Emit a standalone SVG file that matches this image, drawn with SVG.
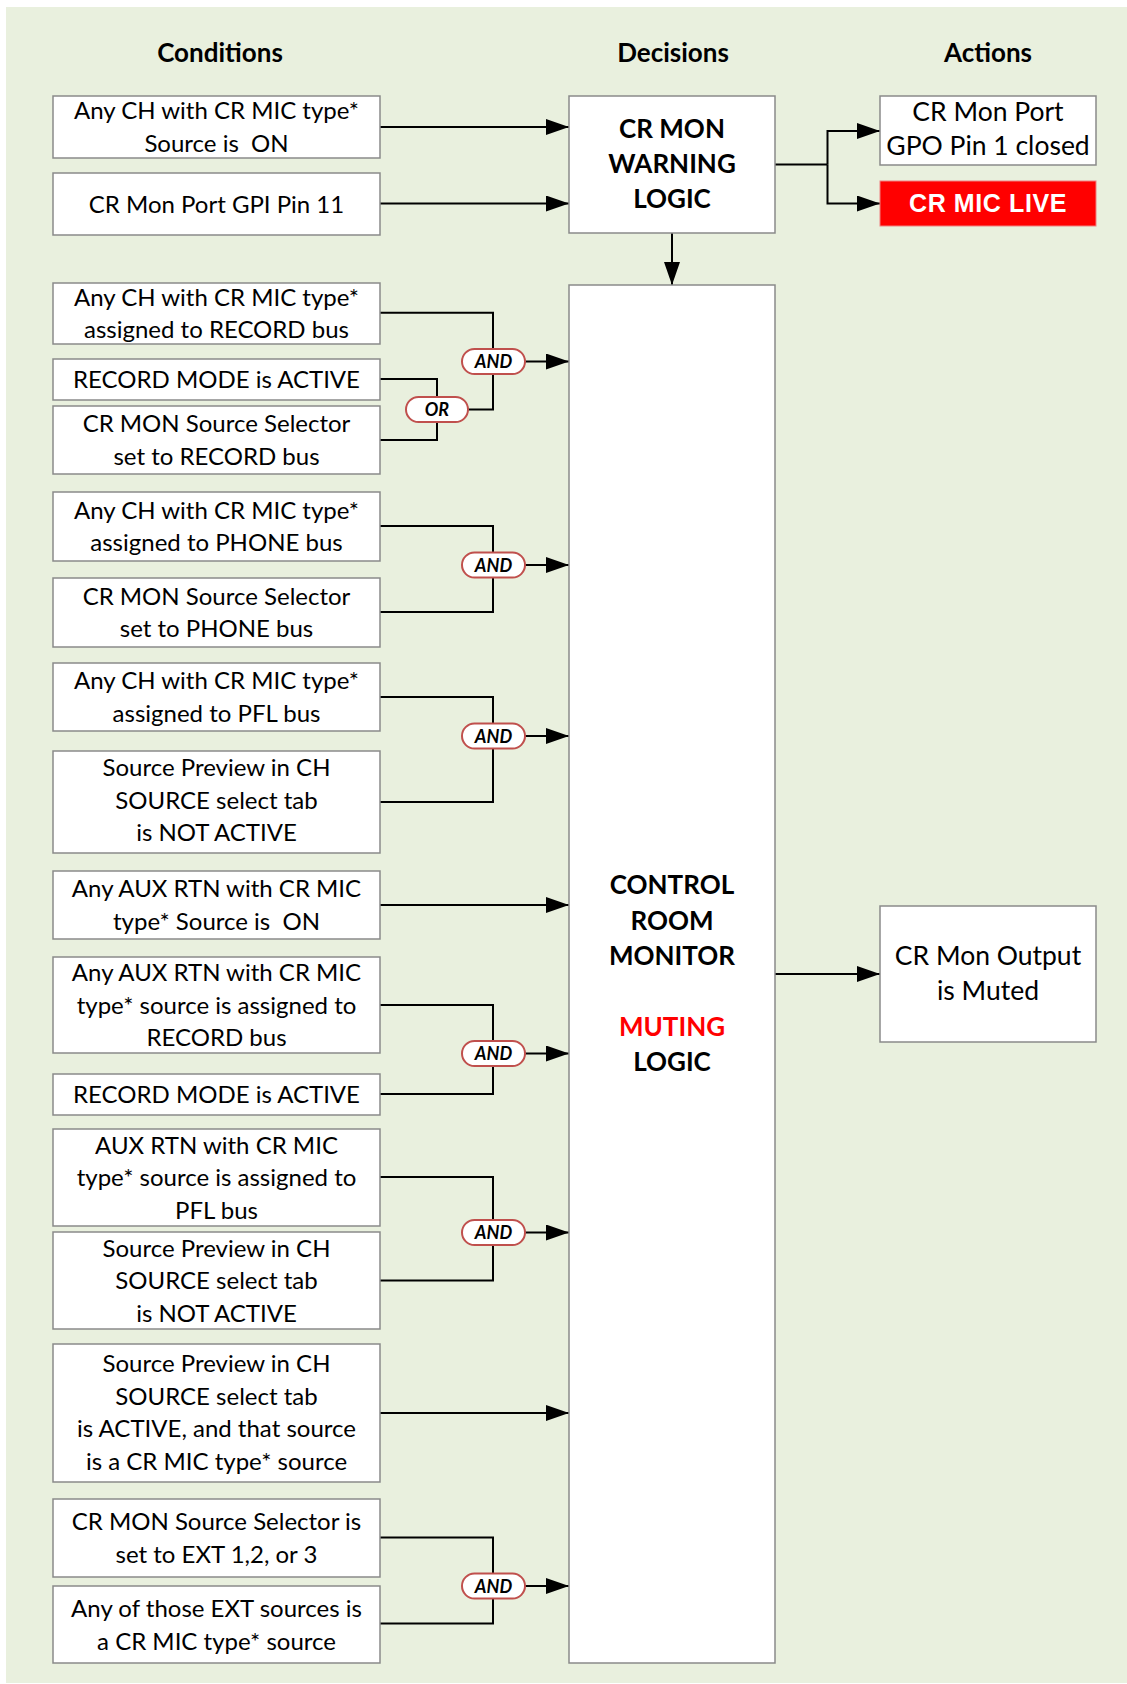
<svg xmlns="http://www.w3.org/2000/svg" width="1127" height="1684" viewBox="0 0 1127 1684">
<style>
.bg{fill:#E9F0DE}
.box{fill:#fff;stroke:#8a8a8a;stroke-width:1.5}
.t{font-family:Lato,"Noto Sans",sans-serif;font-size:24px;fill:#000;text-anchor:middle}
.ta{font-family:Lato,"Noto Sans",sans-serif;font-size:26.5px;fill:#000;text-anchor:middle}
.b{font-family:Lato,"Noto Sans",sans-serif;font-size:26px;font-weight:bold;fill:#000;text-anchor:middle}
.h{font-family:Lato,"Noto Sans",sans-serif;font-size:26px;font-weight:bold;fill:#000;text-anchor:middle}
.cap{fill:#fff;stroke:#C0504D;stroke-width:2}
.ct{font-family:Lato,"Noto Sans",sans-serif;font-size:18px;font-weight:bold;font-style:italic;fill:#000;text-anchor:middle}
.ln{fill:none;stroke:#000;stroke-width:2}
.ar{fill:none;stroke:#000;stroke-width:2;marker-end:url(#ah)}
</style>
<defs>
<marker id="ah" markerUnits="userSpaceOnUse" markerWidth="23" markerHeight="16" refX="23" refY="8" orient="auto">
<path d="M0,0 L23,8 L0,16 z" fill="#000"/>
</marker>
</defs>
<rect class="bg" x="6" y="7" width="1121" height="1676"/>

<g id="headers">
<text class="h" x="220" y="62">Conditions</text>
<text class="h" x="673" y="62">Decisions</text>
<text class="h" x="988" y="62">Actions</text>
</g>

<g id="connectors">
<line class="ar" x1="380" y1="127" x2="569" y2="127"/>
<line class="ar" x1="380" y1="203.5" x2="569" y2="203.5"/>
<polyline class="ln" points="775,164.5 827.5,164.5"/>
<polyline class="ar" points="827.5,164.5 827.5,131 880,131"/>
<polyline class="ar" points="827.5,164.5 827.5,203.5 880,203.5"/>
<line class="ar" x1="672" y1="233" x2="672" y2="285"/>
<line class="ar" x1="775" y1="974" x2="880" y2="974"/>
<polyline class="ln" points="380,312.7 493,312.7 493,409.5 468,409.5"/>
<polyline class="ln" points="380,379 437,379 437,440 380,440"/>
<line class="ar" x1="524" y1="361.5" x2="569" y2="361.5"/>
<polyline class="ln" points="380,526 493,526 493,612 380,612"/>
<line class="ar" x1="524" y1="565" x2="569" y2="565"/>
<polyline class="ln" points="380,697 493,697 493,802 380,802"/>
<line class="ar" x1="524" y1="736" x2="569" y2="736"/>
<line class="ar" x1="380" y1="905" x2="569" y2="905"/>
<polyline class="ln" points="380,1005 493,1005 493,1094 380,1094"/>
<line class="ar" x1="524" y1="1053.5" x2="569" y2="1053.5"/>
<polyline class="ln" points="380,1177 493,1177 493,1280.5 380,1280.5"/>
<line class="ar" x1="524" y1="1232.5" x2="569" y2="1232.5"/>
<line class="ar" x1="380" y1="1413" x2="569" y2="1413"/>
<polyline class="ln" points="380,1537.5 493,1537.5 493,1623.5 380,1623.5"/>
<line class="ar" x1="524" y1="1586" x2="569" y2="1586"/>
</g>

<g id="gates">
<g id="and1"><rect class="cap" x="462" y="349" width="63" height="25" rx="12.5"/><text class="ct" x="493.5" y="368">AND</text></g>
<g id="or1"><rect class="cap" x="406" y="397" width="62" height="25" rx="12.5"/><text class="ct" x="437" y="416">OR</text></g>
<g id="and2"><rect class="cap" x="462" y="552.5" width="63" height="25" rx="12.5"/><text class="ct" x="493.5" y="571.5">AND</text></g>
<g id="and3"><rect class="cap" x="462" y="723.5" width="63" height="25" rx="12.5"/><text class="ct" x="493.5" y="742.5">AND</text></g>
<g id="and4"><rect class="cap" x="462" y="1041" width="63" height="25" rx="12.5"/><text class="ct" x="493.5" y="1060">AND</text></g>
<g id="and5"><rect class="cap" x="462" y="1220" width="63" height="25" rx="12.5"/><text class="ct" x="493.5" y="1239">AND</text></g>
<g id="and6"><rect class="cap" x="462" y="1573.5" width="63" height="25" rx="12.5"/><text class="ct" x="493.5" y="1592.5">AND</text></g>
</g>

<g id="cond-a1"><rect class="box" x="53" y="96" width="327" height="62"/>
<text class="t" x="216.5" y="119.4">Any CH with CR MIC type*</text>
<text class="t" x="216.5" y="151.9" xml:space="preserve">Source is  ON</text></g>
<g id="cond-a2"><rect class="box" x="53" y="173" width="327" height="62"/>
<text class="t" x="216.5" y="212.6">CR Mon Port GPI Pin 11</text></g>
<g id="cond-b1"><rect class="box" x="53" y="283" width="327" height="61"/>
<text class="t" x="216.5" y="305.9">Any CH with CR MIC type*</text>
<text class="t" x="216.5" y="338.4">assigned to RECORD bus</text></g>
<g id="cond-b2"><rect class="box" x="53" y="359" width="327" height="41"/>
<text class="t" x="216.5" y="388.1">RECORD MODE is ACTIVE</text></g>
<g id="cond-b3"><rect class="box" x="53" y="406" width="327" height="68"/>
<text class="t" x="216.5" y="432.4">CR MON Source Selector</text>
<text class="t" x="216.5" y="464.9">set to RECORD bus</text></g>
<g id="cond-c1"><rect class="box" x="53" y="492" width="327" height="69"/>
<text class="t" x="216.5" y="518.9">Any CH with CR MIC type*</text>
<text class="t" x="216.5" y="551.4">assigned to PHONE bus</text></g>
<g id="cond-c2"><rect class="box" x="53" y="578" width="327" height="69"/>
<text class="t" x="216.5" y="604.9">CR MON Source Selector</text>
<text class="t" x="216.5" y="637.4">set to PHONE bus</text></g>
<g id="cond-d1"><rect class="box" x="53" y="663" width="327" height="68"/>
<text class="t" x="216.5" y="689.4">Any CH with CR MIC type*</text>
<text class="t" x="216.5" y="721.9">assigned to PFL bus</text></g>
<g id="cond-d2"><rect class="box" x="53" y="751" width="327" height="102"/>
<text class="t" x="216.5" y="776.1">Source Preview in CH</text>
<text class="t" x="216.5" y="808.6">SOURCE select tab</text>
<text class="t" x="216.5" y="841.1">is NOT ACTIVE</text></g>
<g id="cond-e"><rect class="box" x="53" y="871" width="327" height="68"/>
<text class="t" x="216.5" y="897.4">Any AUX RTN with CR MIC</text>
<text class="t" x="216.5" y="929.9" xml:space="preserve">type* Source is  ON</text></g>
<g id="cond-f1"><rect class="box" x="53" y="957" width="327" height="96"/>
<text class="t" x="216.5" y="981.1">Any AUX RTN with CR MIC</text>
<text class="t" x="216.5" y="1013.6">type* source is assigned to</text>
<text class="t" x="216.5" y="1046.1">RECORD bus</text></g>
<g id="cond-f2"><rect class="box" x="53" y="1074" width="327" height="41"/>
<text class="t" x="216.5" y="1103.1">RECORD MODE is ACTIVE</text></g>
<g id="cond-g1"><rect class="box" x="53" y="1129" width="327" height="97"/>
<text class="t" x="216.5" y="1153.6">AUX RTN with CR MIC</text>
<text class="t" x="216.5" y="1186.1">type* source is assigned to</text>
<text class="t" x="216.5" y="1218.6">PFL bus</text></g>
<g id="cond-g2"><rect class="box" x="53" y="1232" width="327" height="97"/>
<text class="t" x="216.5" y="1256.6">Source Preview in CH</text>
<text class="t" x="216.5" y="1289.1">SOURCE select tab</text>
<text class="t" x="216.5" y="1321.6">is NOT ACTIVE</text></g>
<g id="cond-h"><rect class="box" x="53" y="1344" width="327" height="138"/>
<text class="t" x="216.5" y="1372">Source Preview in CH</text>
<text class="t" x="216.5" y="1404.5">SOURCE select tab</text>
<text class="t" x="216.5" y="1437">is ACTIVE, and that source</text>
<text class="t" x="216.5" y="1469.5">is a CR MIC type* source</text></g>
<g id="cond-i1"><rect class="box" x="53" y="1499" width="327" height="78"/>
<text class="t" x="216.5" y="1530.4">CR MON Source Selector is</text>
<text class="t" x="216.5" y="1562.9">set to EXT 1,2, or 3</text></g>
<g id="cond-i2"><rect class="box" x="53" y="1586" width="327" height="77"/>
<text class="t" x="216.5" y="1617">Any of those EXT sources is</text>
<text class="t" x="216.5" y="1649.5">a CR MIC type* source</text></g>

<g id="warning-logic"><rect class="box" x="569" y="96" width="206" height="137"/>
<text class="b" x="672" y="138">CR MON</text>
<text class="b" x="672" y="173">WARNING</text>
<text class="b" x="672" y="208">LOGIC</text></g>

<g id="muting-logic"><rect class="box" x="569" y="285" width="206" height="1378"/>
<text class="b" x="672" y="894">CONTROL</text>
<text class="b" x="672" y="930">ROOM</text>
<text class="b" x="672" y="965">MONITOR</text>
<text class="b" x="672" y="1036" style="fill:#FF0000">MUTING</text>
<text class="b" x="672" y="1071">LOGIC</text></g>

<g id="gpo-action"><rect class="box" x="880" y="96" width="216" height="69"/>
<text class="ta" x="988" y="121">CR Mon Port</text>
<text class="ta" x="988" y="155">GPO Pin 1 closed</text></g>

<g id="mic-live"><rect x="880" y="181" width="216" height="45" fill="#FF0000" stroke="#F08080" stroke-width="1"/>
<text x="988" y="212" text-anchor="middle" style="font-family:'Liberation Sans',Arial,sans-serif;font-size:25px;font-weight:bold;fill:#fff;letter-spacing:0.6px">CR MIC LIVE</text></g>

<g id="muted-action"><rect class="box" x="880" y="906" width="216" height="136"/>
<text class="ta" x="988" y="965">CR Mon Output</text>
<text class="ta" x="988" y="1000">is Muted</text></g>
</svg>
